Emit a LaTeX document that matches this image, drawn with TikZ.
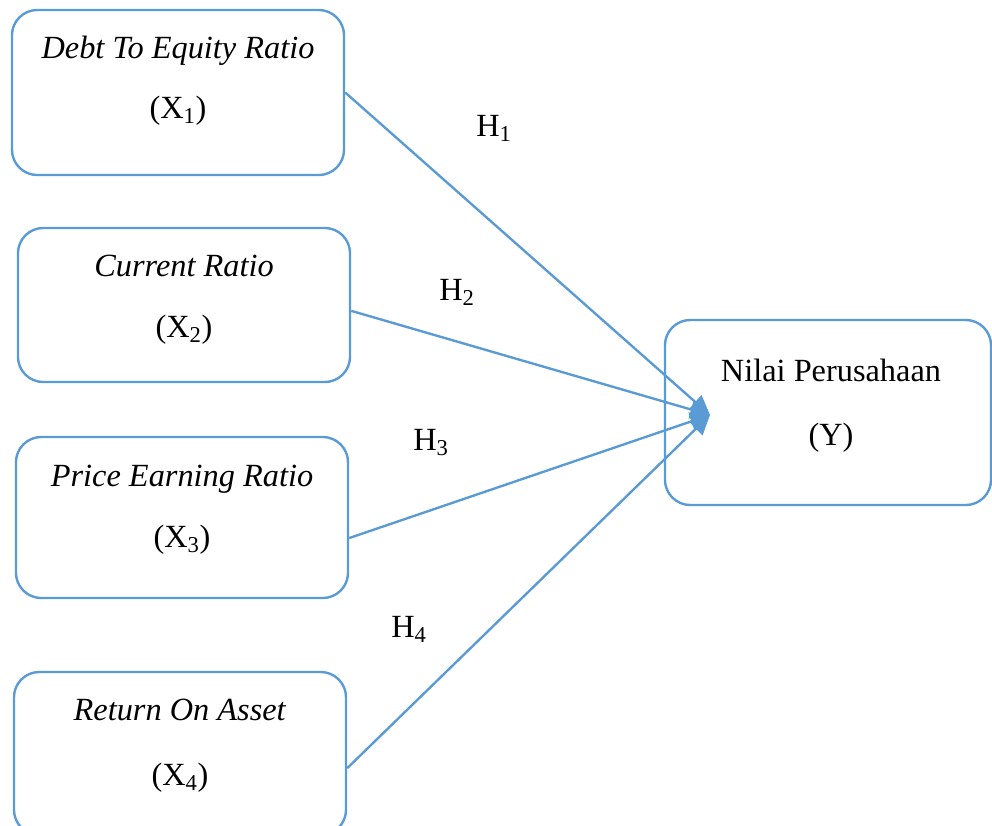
\documentclass[tikz,border=0pt]{standalone}
\usepackage{fontspec}
\setmainfont{Liberation Serif}
\usetikzlibrary{arrows.meta}
\definecolor{lineblue}{HTML}{5B9BD5}
\begin{document}
\begin{tikzpicture}[x=0.025cm,y=-0.025cm,
    varbox/.style={draw=lineblue,line width=1.7pt,rounded corners=18pt,inner sep=0pt},
    vartext/.style={anchor=base,inner sep=0pt,font=\fontsize{23}{27}\selectfont},
    hyp/.style={draw=lineblue,line width=1.7pt,-{Triangle[length=14pt,width=13pt]}}]
    \clip (0,0) rectangle (992,825);
    \node[varbox,minimum width=8.3cm,minimum height=4.125cm] (x1) at (178,92.5) {};
    \node[varbox,minimum width=8.3cm,minimum height=3.85cm] (x2) at (184,305) {};
    \node[varbox,minimum width=8.3cm,minimum height=4.025cm] (x3) at (182,517.5) {};
    \node[varbox,minimum width=8.3cm,minimum height=4.075cm] (x4) at (180,753.5) {};
    \node[varbox,minimum width=8.15cm,minimum height=4.625cm] (y) at (828,412.5) {};
    \node[vartext] (x1name) at (178,58) {\textit{Debt To Equity Ratio}};
    \node[vartext] (x1sym) at (178,118) {(X\textsubscript{1})};
    \node[vartext] (x2name) at (184,276) {\textit{Current Ratio}};
    \node[vartext] (x2sym) at (184,337) {(X\textsubscript{2})};
    \node[vartext] (x3name) at (182,486) {\textit{Price Earning Ratio}};
    \node[vartext] (x3sym) at (182,547) {(X\textsubscript{3})};
    \node[vartext] (x4name) at (180,720) {\textit{Return On Asset}};
    \node[vartext] (x4sym) at (180,785) {(X\textsubscript{4})};
    \node[vartext] (yname) at (831,381) {Nilai Perusahaan};
    \node[vartext] (ysym) at (831,445) {(Y)};
    \coordinate (tip) at (710,415);
    \draw[hyp] (x1.east) -- (tip);
    \draw[hyp] (x2.-2) -- (tip);
    \draw[hyp] (x3.-7) -- (tip);
    \draw[hyp] (x4.-5) -- (tip);
    \node[vartext] (h1) at (494,136) {H\textsubscript{1}};
    \node[vartext] (h2) at (457,300) {H\textsubscript{2}};
    \node[vartext] (h3) at (431,450) {H\textsubscript{3}};
    \node[vartext] (h4) at (409,637) {H\textsubscript{4}};
\end{tikzpicture}
\end{document}
